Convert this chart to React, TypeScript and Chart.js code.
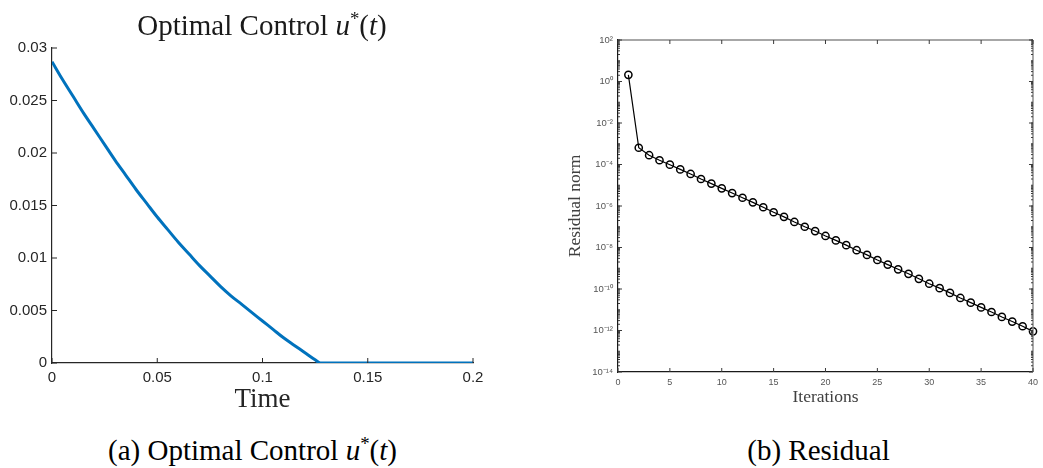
import React, { useEffect, useRef } from "react";
import { Chart, registerables } from "chart.js";

Chart.register(...registerables);

// ---------- Data: (a) Optimal control ----------
const controlTime = [
  0, 0.005, 0.01, 0.015, 0.02, 0.025, 0.03, 0.035, 0.04, 0.045, 0.05, 0.055, 0.06, 0.065,
  0.07, 0.075, 0.08, 0.085, 0.09, 0.095, 0.1, 0.105, 0.11, 0.115, 0.12, 0.125, 0.1275,
  0.15, 0.175, 0.2,
];
const controlValue = [
  0.0287, 0.027, 0.0254, 0.0238, 0.0223, 0.0208, 0.0193, 0.0179, 0.0165, 0.0152, 0.0139,
  0.0127, 0.0115, 0.0104, 0.0093, 0.0083, 0.0073, 0.0064, 0.0056, 0.0048, 0.004, 0.0032,
  0.0024, 0.0017, 0.001, 0.0003, 0, 0, 0, 0,
];
const uTickValues = [0, 0.005, 0.01, 0.015, 0.02, 0.025, 0.03];
const uTickLabels = ["0", "0.005", "0.01", "0.015", "0.02", "0.025", "0.03"];
const timeTickValues = [0, 0.05, 0.1, 0.15, 0.2];
const timeTickLabels = ["0", "0.05", "0.1", "0.15", "0.2"];

// ---------- Data: (b) Residual ----------
const iterations = [
  1, 2, 3, 4, 5, 6, 7, 8, 9, 10, 11, 12, 13, 14, 15, 16, 17, 18, 19, 20,
  21, 22, 23, 24, 25, 26, 27, 28, 29, 30, 31, 32, 33, 34, 35, 36, 37, 38, 39, 40,
];
const residualNorm = [
  2.1, 6.4e-4, 2.8e-4, 1.6e-4, 9.8e-5, 5.8e-5, 3.5e-5, 2.0e-5, 1.2e-5, 7.1e-6,
  4.2e-6, 2.5e-6, 1.5e-6, 8.7e-7, 5.0e-7, 3.0e-7, 1.7e-7, 1.0e-7, 6.2e-8, 3.6e-8,
  2.2e-8, 1.3e-8, 7.4e-9, 4.4e-9, 2.5e-9, 1.5e-9, 8.9e-10, 5.4e-10, 3.1e-10, 1.8e-10,
  1.1e-10, 6.5e-11, 3.7e-11, 2.2e-11, 1.3e-11, 7.8e-12, 4.5e-12, 2.7e-12, 1.6e-12, 9.1e-13,
];
const iterTickValues = [0, 5, 10, 15, 20, 25, 30, 35, 40];
const iterTickLabels = ["0", "5", "10", "15", "20", "25", "30", "35", "40"];
const residualTickValues = [1e-14, 1e-12, 1e-10, 1e-8, 1e-6, 1e-4, 1e-2, 1, 1e2];
const residualTickLabels = [
  "10⁻¹⁴", "10⁻¹²", "10⁻¹⁰", "10⁻⁸", "10⁻⁶", "10⁻⁴", "10⁻²", "10⁰", "10²",
];
const residualMinorDecades = [-14, -13, -12, -11, -10, -9, -8, -7, -6, -5, -4, -3, -2, -1, 0, 1];
const residualMinorMultipliers = [2, 3, 4, 5, 6, 7, 8, 9, 10];

// ---------- Inward ticks / box plugin ----------
const inwardTicks = {
  id: "inwardTicks",
  afterDraw(chart: any, _args: any, opts: any) {
    const { ctx, chartArea, scales } = chart;
    const { left, right, top, bottom } = chartArea;
    const xs = scales.x;
    const ys = scales.y;
    const line = (x1: number, y1: number, x2: number, y2: number) => {
      ctx.beginPath();
      ctx.moveTo(x1, y1);
      ctx.lineTo(x2, y2);
      ctx.stroke();
    };
    ctx.save();
    if (opts.box) {
      ctx.strokeStyle = opts.boxColor;
      ctx.lineWidth = opts.boxWidth;
      line(left, top, right, top);
      line(right, top, right, bottom);
    }
    ctx.strokeStyle = opts.tickColor;
    ctx.lineWidth = opts.tickWidth;
    const len = opts.len;
    for (const v of opts.xTicks) {
      const px = xs.getPixelForValue(v);
      line(px, bottom, px, bottom - len);
      if (opts.box) line(px, top, px, top + len);
    }
    for (const v of opts.yTicks) {
      const py = ys.getPixelForValue(v);
      line(left, py, left + len, py);
      if (opts.box) line(right, py, right - len, py);
    }
    if (opts.yMinor) {
      for (const v of opts.yMinor) {
        const py = ys.getPixelForValue(v);
        if (py < top - 0.5 || py > bottom + 0.5) continue;
        line(left, py, left + opts.minorLen, py);
        if (opts.box) line(right, py, right - opts.minorLen, py);
      }
    }
    ctx.restore();
  },
};

const tickFont = { family: "'Liberation Sans', Arial, Helvetica, sans-serif" };
const serif = "'Liberation Serif', 'Times New Roman', Times, serif";

function ControlChart() {
  const ref = useRef<HTMLCanvasElement | null>(null);
  useEffect(() => {
    if (!ref.current) return;
    const W = 540;
    const H = 420;
    const chart = new Chart(ref.current, {
      type: "line",
      data: {
        datasets: [
          {
            data: controlTime.map((t, i) => ({ x: t, y: controlValue[i] })),
            borderColor: "#0072BD",
            borderWidth: 3,
            pointRadius: 0,
            cubicInterpolationMode: "monotone",
            fill: false,
          },
        ],
      },
      options: {
        animation: false,
        responsive: false,
        devicePixelRatio: 1,
        layout: { padding: { left: 0, top: 48, right: W - 473, bottom: 0 } },
        plugins: {
          legend: { display: false },
          tooltip: { enabled: false },
          inwardTicks: {
            box: false,
            tickColor: "#262626",
            tickWidth: 1,
            len: 5,
            xTicks: timeTickValues,
            yTicks: uTickValues,
          },
        } as any,
        scales: {
          x: {
            type: "linear",
            min: 0,
            max: 0.2,
            grid: { display: false, drawTicks: false },
            border: { display: true, color: "#262626", width: 1.2 },
            afterBuildTicks: (s: any) => {
              s.ticks = timeTickValues.map((v) => ({ value: v }));
            },
            afterFit: (s: any) => {
              s.height = H - 363;
            },
            ticks: {
              autoSkip: false,
              maxRotation: 0,
              padding: 6,
              color: "#262626",
              font: { ...tickFont, size: 15 },
              callback: (_v: any, i: number) => timeTickLabels[i],
            },
            title: {
              display: true,
              text: "Time",
              color: "#262626",
              font: { family: serif, size: 27 },
              padding: { top: 0, bottom: 4 },
            },
          },
          y: {
            type: "linear",
            min: 0,
            max: 0.03,
            grid: { display: false, drawTicks: false },
            border: { display: true, color: "#262626", width: 1.2 },
            afterBuildTicks: (s: any) => {
              s.ticks = uTickValues.map((v) => ({ value: v }));
            },
            afterFit: (s: any) => {
              s.width = 52;
            },
            ticks: {
              autoSkip: false,
              padding: 5,
              color: "#262626",
              font: { ...tickFont, size: 15 },
              callback: (_v: any, i: number) => uTickLabels[i],
            },
          },
        },
      },
      plugins: [inwardTicks],
    });
    return () => chart.destroy();
  }, []);
  return <canvas ref={ref} width={540} height={420} style={{ position: "absolute", left: 0, top: 0 }} />;
}

function ResidualChart() {
  const ref = useRef<HTMLCanvasElement | null>(null);
  useEffect(() => {
    if (!ref.current) return;
    const W = 503;
    const H = 420;
    const minor: number[] = [];
    residualMinorDecades.forEach((d) =>
      residualMinorMultipliers.forEach((m) => minor.push(m * Math.pow(10, d)))
    );
    const chart = new Chart(ref.current, {
      type: "line",
      data: {
        datasets: [
          {
            data: iterations.map((it, i) => ({ x: it, y: residualNorm[i] })),
            borderColor: "#000000",
            borderWidth: 1.2,
            pointRadius: 3.6,
            pointBorderWidth: 1.5,
            pointBorderColor: "#000000",
            pointBackgroundColor: "rgba(0,0,0,0)",
            tension: 0,
            fill: false,
            clip: false as any,
          },
        ],
      },
      options: {
        animation: false,
        responsive: false,
        devicePixelRatio: 1,
        layout: { padding: { left: 0, top: 40, right: W - 497, bottom: 0 } },
        plugins: {
          legend: { display: false },
          tooltip: { enabled: false },
          inwardTicks: {
            box: true,
            boxColor: "#8a8a8a",
            boxWidth: 1.5,
            tickColor: "#3a3a3a",
            tickWidth: 1,
            len: 4,
            minorLen: 2,
            xTicks: iterTickValues,
            yTicks: residualTickValues,
            yMinor: minor,
          },
        } as any,
        scales: {
          x: {
            type: "linear",
            min: 0,
            max: 40,
            grid: { display: false, drawTicks: false },
            border: { display: true, color: "#1a1a1a", width: 1.2 },
            afterBuildTicks: (s: any) => {
              s.ticks = iterTickValues.map((v) => ({ value: v }));
            },
            afterFit: (s: any) => {
              s.height = H - 372;
            },
            ticks: {
              autoSkip: false,
              maxRotation: 0,
              padding: 5,
              color: "#555555",
              font: { ...tickFont, size: 9 },
              callback: (_v: any, i: number) => iterTickLabels[i],
            },
            title: {
              display: true,
              text: "Iterations",
              color: "#404040",
              font: { family: serif, size: 17.5 },
              padding: { top: 0, bottom: 12 },
            },
          },
          y: {
            type: "logarithmic",
            min: 1e-14,
            max: 1e2,
            grid: { display: false, drawTicks: false },
            border: { display: true, color: "#1a1a1a", width: 1.2 },
            afterBuildTicks: (s: any) => {
              s.ticks = residualTickValues.map((v) => ({ value: v, major: false }));
            },
            afterFit: (s: any) => {
              s.width = 78;
            },
            ticks: {
              autoSkip: false,
              padding: 5,
              color: "#555555",
              font: { ...tickFont, size: 9.5 },
              callback: (_v: any, i: number) => residualTickLabels[i],
            },
            title: {
              display: true,
              text: "Residual norm",
              color: "#404040",
              font: { family: serif, size: 17.5 },
              padding: { top: 25, bottom: 0 },
            },
          },
        },
      },
      plugins: [inwardTicks],
    });
    return () => chart.destroy();
  }, []);
  return <canvas ref={ref} width={503} height={420} style={{ position: "absolute", left: 540, top: 0 }} />;
}

const sup: React.CSSProperties = { fontSize: "0.65em", verticalAlign: "0.55em", lineHeight: 0 };

export default function App() {
  return (
    <div
      style={{
        position: "absolute",
        left: 0,
        top: 0,
        width: 1043,
        height: 468,
        background: "#ffffff",
        overflow: "hidden",
        fontFamily: serif,
        color: "#000",
      }}
    >
      <ControlChart />
      <ResidualChart />
      <div
        style={{
          position: "absolute",
          left: 0,
          top: 8,
          width: 524,
          textAlign: "center",
          fontSize: 29,
          lineHeight: "34px",
          color: "#1a1a1a",
          whiteSpace: "nowrap",
        }}
      >
        Optimal Control <i>u</i>
        <span style={sup}>*</span>(<i>t</i>)
      </div>
      <div
        style={{
          position: "absolute",
          left: 0,
          top: 433,
          width: 505,
          textAlign: "center",
          fontSize: 29,
          lineHeight: "34px",
          whiteSpace: "nowrap",
        }}
      >
        (a) Optimal Control <i>u</i>
        <span style={sup}>*</span>(<i>t</i>)
      </div>
      <div
        style={{
          position: "absolute",
          left: 560,
          top: 433,
          width: 517,
          textAlign: "center",
          fontSize: 29,
          lineHeight: "34px",
          whiteSpace: "nowrap",
        }}
      >
        (b) Residual
      </div>
    </div>
  );
}
